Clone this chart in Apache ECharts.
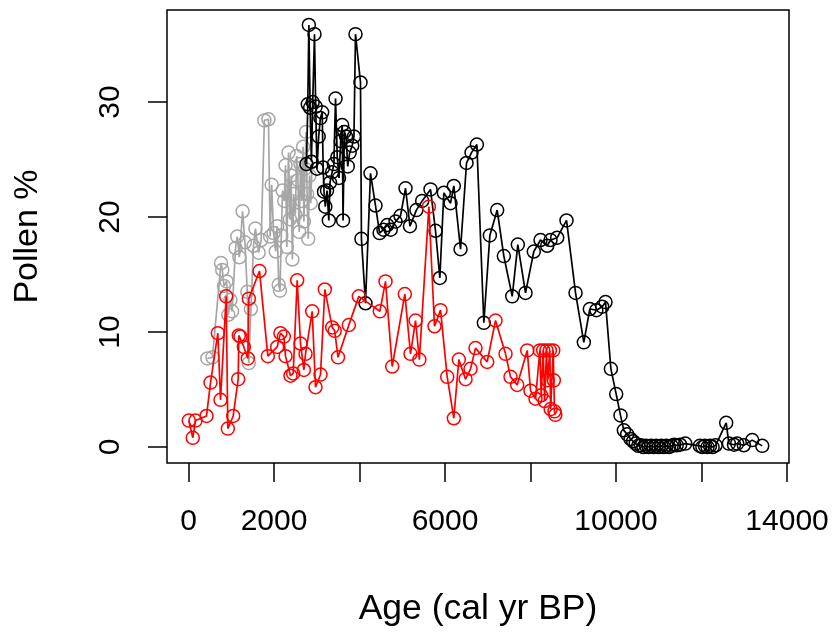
<!DOCTYPE html>
<html>
<head>
<meta charset="utf-8">
<script src="https://cdn.jsdelivr.net/npm/echarts@6/dist/echarts.min.js"></script>
<style>
html,body{margin:0;padding:0;background:#fff;}
#chart{width:837px;height:634px;}
</style>
</head>
<body>
<div id="chart"></div>
<script>
// ---- data (age in cal yr BP, pollen %) ----
var grayAge = [440,560,760,790,830,890,930,980,1020,1100,1140,1190,1265,1320,1375,1410,1460,1520,1565,1640,1700,1775,1870,1910,1945,1990,2040,2075,2110,2140,2170,2200,2240,2270,2300,2340,2370,2400,2430,2460,2500,2530,2560,2590,2620,2650,2680,2700,2725,2750,2775,2800,2830,2860,2890];
var grayPct = [7.7,7.8,16.0,15.4,14.0,14.4,11.5,12.8,11.8,17.3,18.3,16.5,20.5,17.8,13.5,7.3,12.0,17.5,19.0,16.9,18.0,28.4,28.5,18.3,22.8,18.6,17.0,19.2,14.1,13.6,18.4,22.3,21.4,24.5,17.4,25.6,19.8,23.6,16.3,22.0,20.2,25.3,23.2,18.7,24.6,21.4,26.1,19.6,24.2,27.4,22.0,18.1,23.6,21.2,24.8];

var blackAge = [2760,2790,2815,2845,2875,2905,2947,2975,3005,3045,3085,3127,3150,3170,3200,3240,3282,3310,3360,3400,3439,3480,3520,3560,3595,3615,3645,3685,3725,3770,3829,3870,3906,4023,4045,4140,4257,4374,4470,4560,4650,4730,4842,4959,5076,5180,5330,5466,5661,5778,5879,5972,6129,6206,6363,6503,6620,6745,6908,7049,7220,7376,7572,7703,7883,8077,8234,8390,8468,8624,8842,9053,9247,9387,9540,9677,9754,9880,10004,10105,10183,10261,10339,10400,10460,10520,10580,10640,10700,10760,10820,10880,10940,11000,11060,11120,11180,11240,11300,11360,11420,11500,11620,11960,12020,12080,12140,12200,12260,12330,12577,12640,12760,12834,12990,13186,13420];
var blackPct = [24.6,29.8,36.7,29.5,24.8,30.0,35.9,29.6,24.2,27.0,28.6,29.1,24.3,22.2,20.9,22.3,19.7,23.0,23.9,24.6,30.3,25.2,23.4,26.6,28.0,19.7,27.4,27.0,24.4,25.6,26.2,27.0,35.9,31.7,18.1,12.5,23.8,21.0,18.6,18.9,19.3,18.9,19.6,20.1,22.5,19.2,20.6,21.4,22.4,18.8,14.7,22.1,21.2,22.7,17.2,24.7,25.6,26.3,10.8,18.4,20.6,16.6,13.1,17.6,13.4,17.0,18.0,17.5,18.0,18.2,19.7,13.4,9.1,12.0,11.9,12.2,12.6,6.8,4.6,2.75,1.45,1.1,0.7,0.5,0.3,0.1,0.15,0.0,0.1,0.0,0.1,0.0,0.1,0.0,0.1,0.0,0.1,0.0,0.1,0.2,0.15,0.2,0.3,0.1,0.0,0.1,0.0,0.1,0.0,0.15,2.1,0.3,0.2,0.3,0.15,0.6,0.1];

var redAge = [7,100,164,421,515,686,749,881,920,1045,1162,1177,1216,1294,1388,1411,1661,1856,2074,2150,2230,2269,2386,2449,2542,2620,2698,2737,2893,2971,3088,3189,3361,3420,3497,3750,3984,4475,4608,4765,5060,5193,5310,5400,5622,5754,5895,6051,6206,6323,6480,6597,6713,6986,7181,7415,7532,7688,7923,8000,8117,8218,8250,8296,8330,8374,8400,8452,8470,8531,8545,8560,8580];
var redPct = [2.3,0.8,2.3,2.7,5.6,9.9,4.1,13.1,1.6,2.7,5.9,9.7,9.6,8.7,7.7,12.9,15.3,7.9,8.7,9.9,9.6,7.9,6.2,6.4,14.5,9.0,6.7,8.1,11.8,5.2,6.3,13.7,10.4,10.1,7.8,10.6,13.1,11.8,14.4,7.0,13.3,8.1,11.0,7.6,20.9,10.5,11.9,6.1,2.5,7.6,5.9,6.8,8.6,7.4,11.0,8.1,6.1,5.4,8.4,4.9,4.2,8.4,4.5,8.4,4.0,8.4,5.8,8.4,3.3,8.4,5.8,3.1,2.8];

var xTicks = [0,2000,4000,6000,8000,10000,12000,14000];
var xTickLabels = [0,2000,6000,10000,14000];
var yTicks = [0,10,20,30];

function zip(a, b){ var out=[]; for (var i=0;i<a.length;i++) out.push([a[i], b[i]]); return out; }

var FONT = '"Liberation Sans", Arial, sans-serif';
function mk(name, age, pct, color, z){
  return {
    name: name, type: 'line', data: zip(age, pct), z: z,
    symbol: 'circle', symbolSize: 13, showAllSymbol: true,
    itemStyle: {color: 'rgba(0,0,0,0)', borderColor: color, borderWidth: 1.5},
    lineStyle: {color: color, width: 1.7},
    emphasis: {disabled: true}, silent: true, animation: false
  };
}
function plain(v){ return String(v); }

var chart = echarts.init(document.getElementById('chart'), null, {renderer: 'canvas'});
chart.setOption({
  backgroundColor: '#ffffff',
  animation: false,
  grid: {left: 167, right: 48, top: 10, bottom: 171, show: true, borderColor: '#000', borderWidth: 1.5, backgroundColor: 'transparent'},
  xAxis: {
    type: 'value', min: -503, max: 14046,
    name: 'Age (cal yr BP)', nameLocation: 'middle', nameGap: 128,
    nameTextStyle: {fontFamily: FONT, fontSize: 35.5, color: '#000'},
    axisLine: {show: false, onZero: false},
    splitLine: {show: false},
    axisTick: {show: true, inside: false, length: 19, lineStyle: {color: '#000', width: 1.5}, customValues: xTicks},
    axisLabel: {show: true, margin: 44, fontFamily: FONT, fontSize: 30, color: '#000', customValues: xTickLabels, formatter: plain}
  },
  yAxis: {
    type: 'value', min: -1.39, max: 38.0,
    name: 'Pollen %', nameLocation: 'middle', nameGap: 122, nameRotate: 90,
    nameTextStyle: {fontFamily: FONT, fontSize: 34, color: '#000'},
    axisLine: {show: false, onZero: false},
    splitLine: {show: false},
    axisTick: {show: true, inside: false, length: 19, lineStyle: {color: '#000', width: 1.5}, customValues: yTicks},
    axisLabel: {show: true, margin: 41, rotate: 90, fontFamily: FONT, fontSize: 30, color: '#000', customValues: yTicks, formatter: plain}
  },
  series: [
    mk('gray', grayAge, grayPct, '#a6a6a6', 2),
    mk('black', blackAge, blackPct, '#000000', 3),
    mk('red', redAge, redPct, '#ff0000', 4)
  ]
});
</script>
</body>
</html>
